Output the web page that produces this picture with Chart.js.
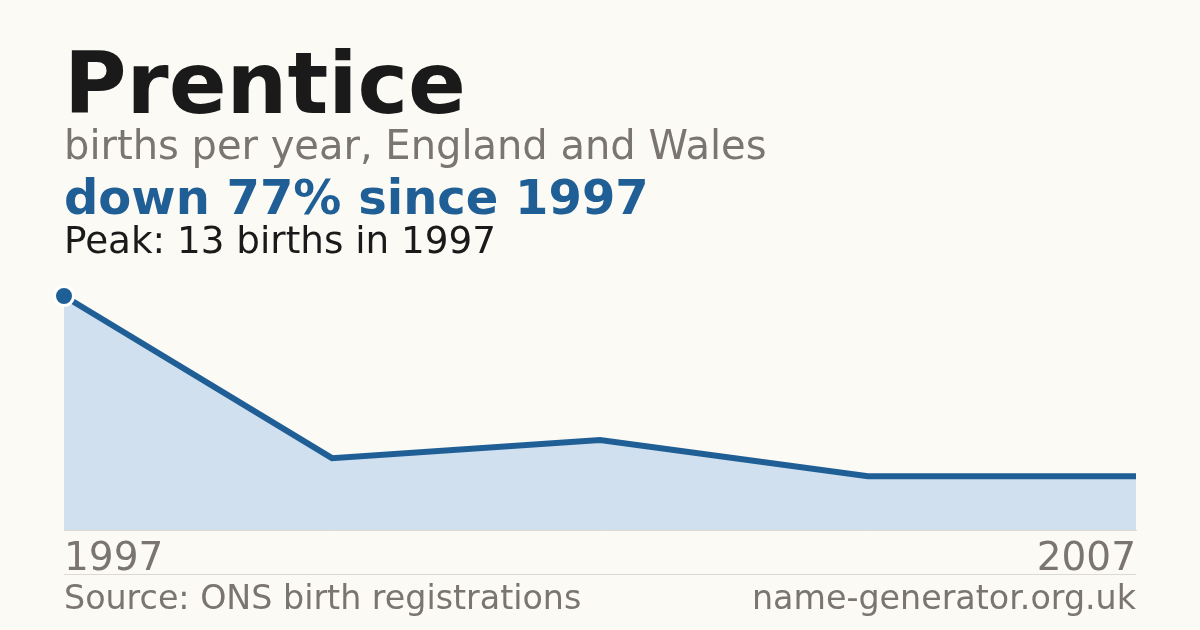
<!DOCTYPE html>
<html>
<head>
<meta charset="utf-8">
<script src="https://cdn.jsdelivr.net/npm/chart.js@4/dist/chart.umd.min.js"></script>
<style>
  html, body { margin: 0; padding: 0; }
  body {
    width: 1200px; height: 630px; position: relative; overflow: hidden;
    background: #fbfaf5; font-family: "DejaVu Sans", sans-serif;
  }
  .t { position: absolute; left: 64px; line-height: 1; white-space: nowrap; }
  #title { top: 41px; font-size: 85.4px; font-weight: bold; color: #1a1a1a; }
  #sub { top: 125px; font-size: 40px; color: #7a756e; }
  #change { top: 173px; font-size: 48px; font-weight: bold; color: #1f5f96; }
  #peak { top: 222px; font-size: 37.3px; color: #1a1a1a; }
  #rule { position: absolute; left: 64px; width: 1072px; top: 574px; height: 1px; background: #dcd9d2; }
  .foot { top: 581px; font-size: 33.3px; color: #7a756e; }
  #site { left: auto; right: 64px; }
  #chart { position: absolute; left: 0; top: 0; }
</style>
</head>
<body>
<canvas id="chart" width="1200" height="630"></canvas>
<div class="t" id="title">Prentice</div>
<div class="t" id="sub">births per year, England and Wales</div>
<div class="t" id="change">down 77% since 1997</div>
<div class="t" id="peak">Peak: 13 births in 1997</div>
<div id="rule"></div>
<div class="t foot" id="source">Source: ONS birth registrations</div>
<div class="t foot" id="site">name-generator.org.uk</div>
<script>
const years = ["1997", "1999", "2002", "2004", "2007"];
const births = [13, 4, 5, 3, 3];
const shownTicks = ["1997", "2007"];

const blue = "#1f5f96";
const grey = "#7a756e";
const peakIndex = births.indexOf(Math.max(...births));

const ctx = document.getElementById("chart");
new Chart(ctx, {
  type: "line",
  data: {
    labels: years,
    datasets: [{
      data: births,
      borderColor: blue,
      borderWidth: 6,
      backgroundColor: "#d0e0ef",
      fill: "origin",
      tension: 0,
      clip: false,
      pointRadius: (c) => c.dataIndex === peakIndex ? 9.5 : 0,
      pointHoverRadius: 0,
      pointBackgroundColor: blue,
      pointBorderColor: "#ffffff",
      pointBorderWidth: 3
    }]
  },
  options: {
    responsive: false,
    animation: false,
    layout: { padding: { left: 64, right: 64, top: 296, bottom: 41 } },
    plugins: { legend: { display: false }, tooltip: { enabled: false } },
    scales: {
      x: {
        offset: false,
        grid: { display: false, drawTicks: false },
        border: { display: true, color: "#dcd9d2", width: 1 },
        ticks: {
          autoSkip: false,
          maxRotation: 0,
          align: "inner",
          padding: 6,
          color: grey,
          font: { family: "DejaVu Sans", size: 39 },
          callback: function (value) {
            const lab = this.getLabelForValue(value);
            return shownTicks.includes(lab) ? lab : "";
          }
        }
      },
      y: { display: false, min: 0, max: 13 }
    }
  }
});
</script>
</body>
</html>
